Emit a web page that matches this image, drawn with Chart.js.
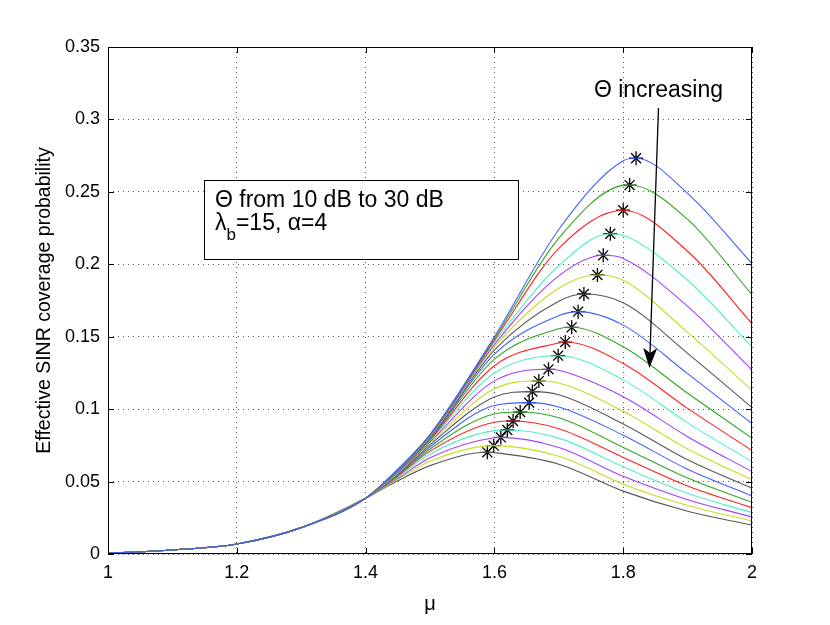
<!DOCTYPE html>
<html>
<head>
<meta charset="utf-8">
<style>
  html, body { margin: 0; padding: 0; background: #fff; }
</style>
</head>
<body>
<canvas id="chart" width="830" height="625"></canvas>
<script src="https://cdn.jsdelivr.net/npm/chart.js"></script>
<script>
// Theta values, one curve each (10 dB .. 30 dB)
const thetaDb = [10, 11, 12, 13, 14, 15, 16, 17, 18, 19, 20, 21, 22, 23, 24, 25, 26, 27, 28, 29, 30];

// left part, all curves lie on top of each other
const muShared = [1.0, 1.1, 1.2, 1.3, 1.4];
const pShared = [0.0005, 0.0028, 0.0069, 0.0182, 0.0385];

// right part, one value per curve (top curve first)
const muSplit = [1.45, 1.5, 1.6, 1.7, 1.8, 1.9, 2.0];
const p145 = [0.0585, 0.0584, 0.0583, 0.0582, 0.0581, 0.0579, 0.0577, 0.0575, 0.0572, 0.0569, 0.0566, 0.0562, 0.0558, 0.0553, 0.0548, 0.0543, 0.0537, 0.0530, 0.0522, 0.0514, 0.0505];
const p15 = [0.0825, 0.0822, 0.0819, 0.0816, 0.0813, 0.0810, 0.0805, 0.0800, 0.0795, 0.0790, 0.0785, 0.0775, 0.0765, 0.0755, 0.0740, 0.0725, 0.0710, 0.0690, 0.0665, 0.0640, 0.0610];
const p16 = [0.150, 0.1488, 0.1475, 0.146, 0.1445, 0.1428, 0.1408, 0.138, 0.1345, 0.130, 0.125, 0.1195, 0.114, 0.1084, 0.1025, 0.0967, 0.0910, 0.0852, 0.0803, 0.0747, 0.0700];
const p17 = [0.224, 0.218, 0.211, 0.199, 0.192, 0.1835, 0.1745, 0.1645, 0.1555, 0.1457, 0.137, 0.1268, 0.118, 0.110, 0.1015, 0.094, 0.0865, 0.080, 0.0735, 0.0675, 0.062];
const p18 = [0.2715, 0.2545, 0.237, 0.2200, 0.2040, 0.1890, 0.1735, 0.158, 0.143, 0.1315, 0.1202, 0.1086, 0.0986, 0.0898, 0.082, 0.0736, 0.0667, 0.0602, 0.0536, 0.0482, 0.0434];
const p19 = [0.249, 0.231, 0.209, 0.189, 0.171, 0.153, 0.1385, 0.1245, 0.111, 0.1005, 0.0905, 0.081, 0.0725, 0.065, 0.0585, 0.0525, 0.047, 0.042, 0.0375, 0.0335, 0.0295];
const p20 = [0.2005, 0.179, 0.159, 0.143, 0.127, 0.113, 0.101, 0.090, 0.080, 0.0714, 0.0638, 0.0569, 0.0512, 0.0454, 0.0401, 0.0357, 0.032, 0.0286, 0.0256, 0.0228, 0.020];
const pSplit = [p145, p15, p16, p17, p18, p19, p20];

// the * markers (maximum of each curve)
const peakMu = [1.820, 1.810, 1.800, 1.780, 1.769, 1.760, 1.739, 1.730, 1.720, 1.710, 1.699, 1.684, 1.669, 1.659, 1.654, 1.640, 1.629, 1.620, 1.610, 1.599, 1.589];
const peakP = [0.2732, 0.2547, 0.2373, 0.2211, 0.2062, 0.1926, 0.1795, 0.1673, 0.1565, 0.1463, 0.1369, 0.1275, 0.1194, 0.1121, 0.1045, 0.0980, 0.0918, 0.0856, 0.0805, 0.0748, 0.0702];

const lineColors = ["#4060ff", "#30a820", "#ff2020", "#50f0c8", "#a040ff", "#c8dc20", "#585858"];
const fontFamily = "'Liberation Sans', Arial, Helvetica, sans-serif";

const datasets = thetaDb.map((t, i) => {
    const pts = muShared.map((m, k) => ({ x: m, y: pShared[k] }));
    muSplit.forEach((m, k) => {
        if (Math.abs(m - peakMu[i]) > 0.006) pts.push({ x: m, y: pSplit[k][i] });
    });
    pts.push({ x: peakMu[i], y: peakP[i] });
    pts.sort((a, b) => a.x - b.x);
    return {
        label: "\u0398 = " + t + " dB",
        data: pts,
        borderColor: lineColors[i % lineColors.length],
        borderWidth: 1.1,
        pointRadius: 0,
        cubicInterpolationMode: "monotone",
        fill: false
    };
});
datasets.push({
    type: "scatter",
    label: "optimum",
    data: peakMu.map((m, i) => ({ x: m, y: peakP[i] })),
    pointStyle: "star",
    pointRadius: 7,
    borderColor: "#000",
    backgroundColor: "#000",
    borderWidth: 1.3,
    showLine: false
});

// box, inward ticks, text box and arrow
const decorations = {
    id: "decorations",
    afterDraw(chart) {
        const { ctx, chartArea: a, scales: { x, y } } = chart;
        ctx.save();
        ctx.strokeStyle = "#000";
        ctx.lineWidth = 1;
        ctx.strokeRect(a.left + 0.5, a.top + 0.5, a.right - a.left - 1, a.bottom - a.top - 1);

        ctx.beginPath();
        x.ticks.forEach(t => {
            const px = Math.round(x.getPixelForValue(t.value)) + 0.5;
            ctx.moveTo(px, a.bottom); ctx.lineTo(px, a.bottom - 6);
            ctx.moveTo(px, a.top); ctx.lineTo(px, a.top + 6);
        });
        y.ticks.forEach(t => {
            const py = Math.round(y.getPixelForValue(t.value)) + 0.5;
            ctx.moveTo(a.left, py); ctx.lineTo(a.left + 6, py);
            ctx.moveTo(a.right, py); ctx.lineTo(a.right - 6, py);
        });
        ctx.stroke();

        // text box
        const bx0 = x.getPixelForValue(1.149), bx1 = x.getPixelForValue(1.6366);
        const by0 = y.getPixelForValue(0.2582), by1 = y.getPixelForValue(0.2036);
        ctx.fillStyle = "#fff";
        ctx.fillRect(bx0, by0, bx1 - bx0, by1 - by0);
        ctx.strokeRect(Math.round(bx0) + 0.5, Math.round(by0) + 0.5, Math.round(bx1 - bx0), Math.round(by1 - by0));

        ctx.fillStyle = "#000";
        ctx.textAlign = "left";
        ctx.textBaseline = "alphabetic";
        ctx.font = "23px " + fontFamily;
        const tx = x.getPixelForValue(1.1661);
        ctx.fillText("\u0398 from 10 dB to 30 dB", tx, y.getPixelForValue(0.2397));
        const l2 = y.getPixelForValue(0.2237);
        ctx.fillText("\u03bb", tx, l2);
        let cx = tx + ctx.measureText("\u03bb").width;
        ctx.font = "17px " + fontFamily;
        ctx.fillText("b", cx, l2 + 10);
        cx += ctx.measureText("b").width;
        ctx.font = "23px " + fontFamily;
        ctx.fillText("=15, \u03b1=4", cx, l2);

        // arrow
        const ax0 = x.getPixelForValue(1.8548), ay0 = y.getPixelForValue(0.3079);
        const ax1 = x.getPixelForValue(1.8408), ay1 = y.getPixelForValue(0.1284);
        const ang = Math.atan2(ay1 - ay0, ax1 - ax0);
        const ux = Math.cos(ang), uy = Math.sin(ang);
        ctx.lineWidth = 1.3;
        ctx.beginPath();
        ctx.moveTo(ax0, ay0);
        ctx.lineTo(ax1 - ux * 14, ay1 - uy * 14);
        ctx.stroke();
        ctx.beginPath();
        ctx.moveTo(ax1, ay1);
        ctx.lineTo(ax1 - ux * 20 - uy * 7, ay1 - uy * 20 + ux * 7);
        ctx.lineTo(ax1 - ux * 15, ay1 - uy * 15);
        ctx.lineTo(ax1 - ux * 20 + uy * 7, ay1 - uy * 20 - ux * 7);
        ctx.closePath();
        ctx.fill();

        ctx.textAlign = "center";
        ctx.font = "23px " + fontFamily;
        ctx.fillText("\u0398 increasing", ax0, y.getPixelForValue(0.3155));
        ctx.restore();
    }
};

const chart = new Chart(document.getElementById("chart").getContext("2d"), {
    type: "line",
    data: { datasets: datasets },
    options: {
        responsive: false,
        animation: false,
        layout: { padding: { top: 47, right: 78, left: 0, bottom: 0 } },
        plugins: { legend: { display: false }, tooltip: { enabled: false } },
        scales: {
            x: {
                type: "linear",
                min: 1,
                max: 2,
                afterFit: s => { s.height = 71; },
                ticks: {
                    stepSize: 0.2,
                    padding: 8,
                    color: "#000",
                    font: { family: fontFamily, size: 18 },
                    callback: v => String(Number(v.toFixed(1)))
                },
                grid: { color: "rgba(0,0,0,0.65)", drawTicks: false },
                border: { display: false, dash: [1, 4] },
                title: {
                    display: true,
                    text: "\u03bc",
                    color: "#000",
                    font: { family: fontFamily, size: 20 },
                    padding: { bottom: 9 }
                }
            },
            y: {
                min: 0,
                max: 0.35,
                afterFit: s => { s.width = 108; },
                ticks: {
                    stepSize: 0.05,
                    padding: 8,
                    color: "#000",
                    font: { family: fontFamily, size: 18 },
                    callback: v => String(Number(v.toFixed(2)))
                },
                grid: { color: "rgba(0,0,0,0.65)", drawTicks: false },
                border: { display: false, dash: [1, 4] },
                title: {
                    display: true,
                    text: "Effective SINR coverage probability",
                    color: "#000",
                    font: { family: fontFamily, size: 19.5 },
                    padding: { top: 33 }
                }
            }
        }
    },
    plugins: [decorations]
});
</script>
</body>
</html>
